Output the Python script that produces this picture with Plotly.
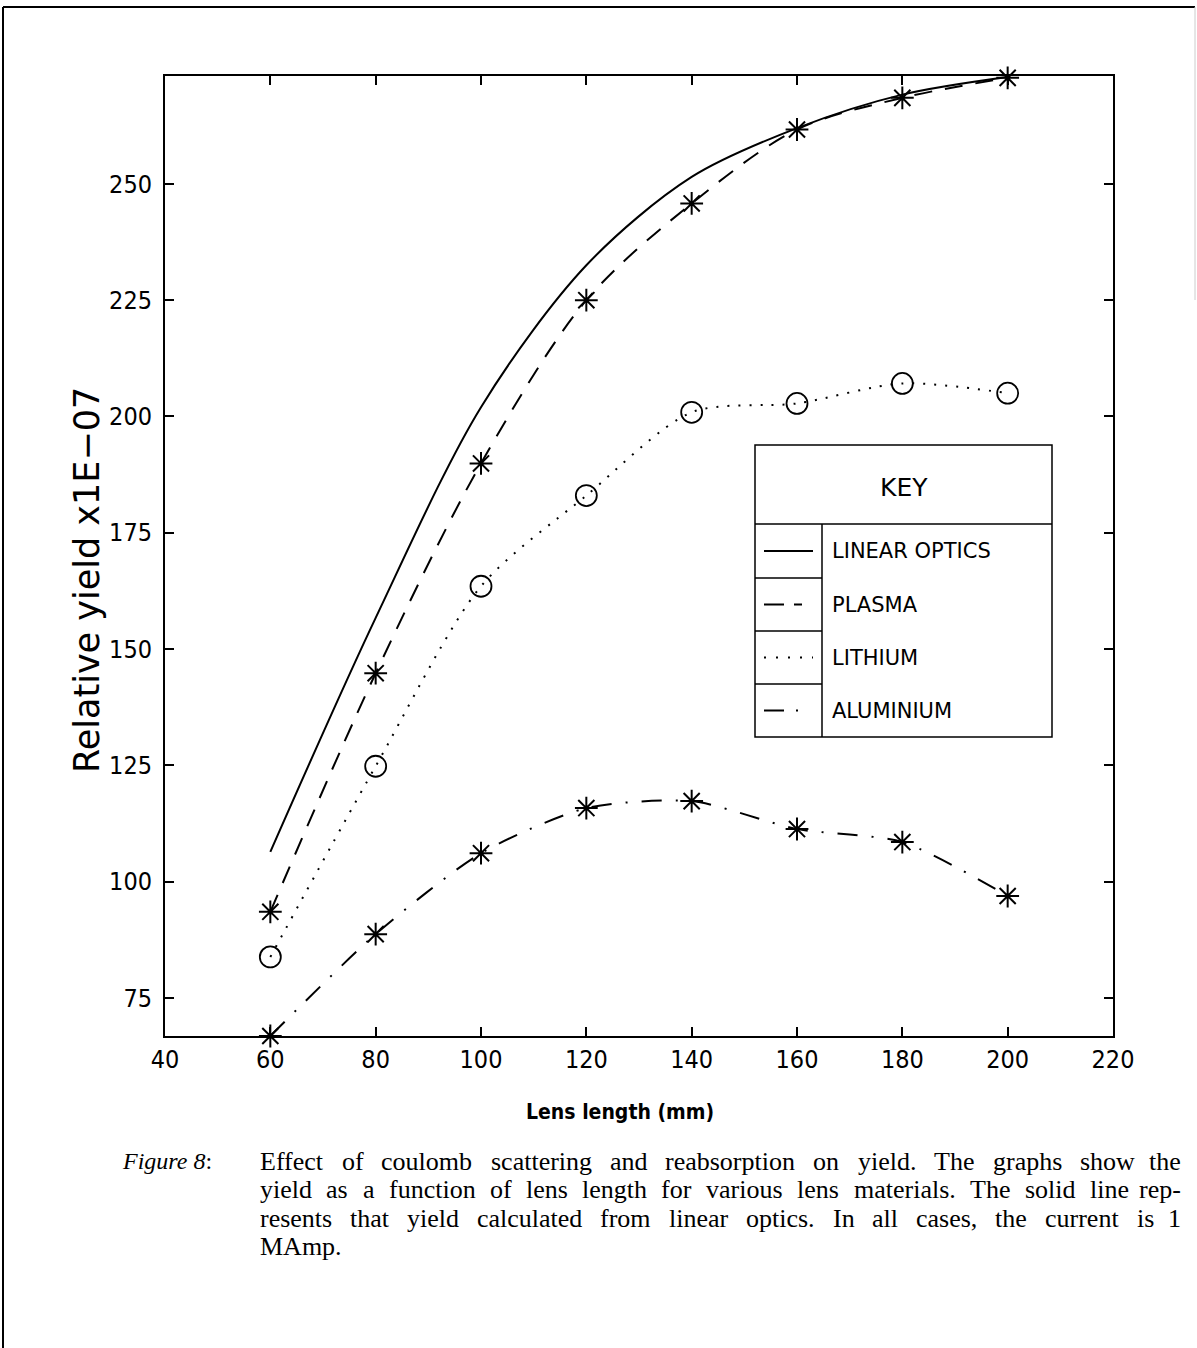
import plotly.graph_objects as go

# ---------------- data ----------------
lens_length = [60, 80, 100, 120, 140, 160, 180, 200]
linear_optics = [106.4, 156.7, 202.0, 232.5, 251.5, 262.0, 269.2, 273.0]
plasma = [93.5, 144.8, 189.9, 225.0, 245.8, 261.7, 268.5, 272.8]
lithium = [83.8, 124.8, 163.5, 183.0, 200.9, 202.8, 207.1, 205.0]
aluminium = [66.8, 88.7, 106.1, 115.8, 117.3, 111.3, 108.5, 96.9]

x_ticks = [40, 60, 80, 100, 120, 140, 160, 180, 200, 220]
y_ticks = [75, 100, 125, 150, 175, 200, 225, 250]

key_labels = ["LINEAR OPTICS", "PLASMA", "LITHIUM", "ALUMINIUM"]
key_dashes = ["solid", "20px,10px,8px,200px", "2px,10px", "20px,12px,2px,200px"]

caption_lines = [
    "Effect of coulomb scattering and reabsorption on yield.  The graphs show the",
    "yield as a function of lens length for various lens materials. The solid line rep-",
    "resents that yield calculated from linear optics. In all cases, the current is 1",
    "MAmp.",
]

# ---------------- layout geometry (pixels) ----------------
W, H = 1197, 1348
L, R, T, B = 165, 1113, 76, 1036
COND = "DejaVu Sans Condensed, Liberation Sans Narrow, Liberation Sans"


def px(x):
    return (x - L) / (R - L)


def py(y):
    return (B - y) / (B - T)


fig = go.Figure()

fig.add_trace(go.Scatter(x=lens_length, y=linear_optics, mode="lines",
                         line=dict(color="black", width=2, shape="spline", smoothing=0.9),
                         cliponaxis=False, showlegend=False))
fig.add_trace(go.Scatter(x=lens_length, y=plasma, mode="lines+markers",
                         line=dict(color="black", width=2, dash="18px,13px", shape="spline", smoothing=0.9),
                         marker=dict(symbol="asterisk-open", size=19,
                                     line=dict(color="black", width=2)),
                         cliponaxis=False, showlegend=False))
fig.add_trace(go.Scatter(x=lens_length, y=lithium, mode="lines+markers",
                         line=dict(color="black", width=2, dash="2px,9px", shape="spline", smoothing=0.8),
                         marker=dict(symbol="circle-open", size=21, color="black",
                                     line=dict(color="black", width=1.8)),
                         cliponaxis=False, showlegend=False))
fig.add_trace(go.Scatter(x=lens_length, y=aluminium, mode="lines+markers",
                         line=dict(color="black", width=2, dash="20px,14px,2px,14px", shape="spline", smoothing=0.7),
                         marker=dict(symbol="asterisk-open", size=19,
                                     line=dict(color="black", width=2)),
                         cliponaxis=False, showlegend=False))

shapes = []
# page border
shapes.append(dict(type="line", xref="paper", yref="paper", x0=px(3), x1=px(1195), y0=py(7), y1=py(7),
                   line=dict(color="black", width=2)))
shapes.append(dict(type="line", xref="paper", yref="paper", x0=px(3), x1=px(3), y0=py(7), y1=py(1348),
                   line=dict(color="black", width=2)))
shapes.append(dict(type="line", xref="paper", yref="paper", x0=px(1195), x1=px(1195), y0=py(7), y1=py(300),
                   line=dict(color="#cccccc", width=1)))

# key box
kx0, kx1, kdiv = 755, 1052, 822
ky = [445, 524, 578, 631, 684, 737]
shapes.append(dict(type="rect", xref="paper", yref="paper", x0=px(kx0), x1=px(kx1), y0=py(ky[0]), y1=py(ky[-1]),
                   line=dict(color="black", width=1.5), fillcolor="white", layer="above"))
shapes.append(dict(type="line", xref="paper", yref="paper", x0=px(kx0), x1=px(kx1), y0=py(ky[1]), y1=py(ky[1]),
                   line=dict(color="black", width=1.5)))
shapes.append(dict(type="line", xref="paper", yref="paper", x0=px(kdiv), x1=px(kdiv), y0=py(ky[1]), y1=py(ky[-1]),
                   line=dict(color="black", width=1.5)))
for i in range(2, 5):
    shapes.append(dict(type="line", xref="paper", yref="paper", x0=px(kx0), x1=px(kdiv), y0=py(ky[i]), y1=py(ky[i]),
                       line=dict(color="black", width=1.5)))

annotations = []
annotations.append(dict(text="KEY", xref="paper", yref="paper", x=px((kx0 + kx1) / 2), y=py(487),
                        xanchor="center", yanchor="middle",
                        showarrow=False, font=dict(family="DejaVu Sans", size=25, color="black")))
for i, (lab, dsh) in enumerate(zip(key_labels, key_dashes)):
    yc = (ky[i + 1] + ky[i + 2]) / 2
    shapes.append(dict(type="line", xref="paper", yref="paper", x0=px(764), x1=px(813), y0=py(yc), y1=py(yc),
                       line=dict(color="black", width=2, dash=dsh)))
    annotations.append(dict(text=lab, xref="paper", yref="paper", x=px(830), y=py(yc),
                            xanchor="left", yanchor="middle",
                            showarrow=False, font=dict(family="DejaVu Sans", size=21, color="black")))

# axis titles
annotations.append(dict(text="Relative yield x1E\u221207", xref="paper", yref="paper", x=px(87), y=py(580),
                        xanchor="center", yanchor="middle", textangle=-90, showarrow=False,
                        font=dict(family="DejaVu Sans", size=35, color="black")))
annotations.append(dict(text="<b>Lens length (mm)</b>", xref="paper", yref="paper", x=px(620), y=py(1112),
                        xanchor="center", yanchor="middle", showarrow=False,
                        font=dict(family=COND, size=21, color="black")))

# ---------------- caption (justified, Times metrics) ----------------
TIMES = {" ": 250, ".": 250, ",": 250, "-": 333, ":": 278, "1": 500, "8": 500,
         "a": 444, "b": 500, "c": 444, "d": 500, "e": 444, "f": 333, "g": 500, "h": 500,
         "i": 278, "j": 278, "k": 500, "l": 278, "m": 778, "n": 500, "o": 500, "p": 500,
         "q": 500, "r": 333, "s": 389, "t": 278, "u": 500, "v": 500, "w": 722, "x": 500,
         "y": 500, "z": 444, "A": 722, "E": 611, "F": 556, "I": 333, "M": 889, "T": 611}
CAP_SIZE = 26
CAP_X0, CAP_X1 = 258, 1183


def text_w(s):
    return sum(TIMES.get(c, 500) for c in s) * CAP_SIZE / 1000.0


annotations.append(dict(text="<i>Figure 8</i>:", xref="paper", yref="paper", x=px(120), y=py(1161),
                        xanchor="left", yanchor="middle", showarrow=False,
                        font=dict(family="Liberation Serif", size=24, color="black")))
for li, line in enumerate(caption_lines):
    yc = py(1161 + li * 28.5)
    words = line.split()
    if li < len(caption_lines) - 1 and len(words) > 1:
        widths = [text_w(w) for w in words]
        gap = (CAP_X1 - CAP_X0 - sum(widths)) / (len(words) - 1)
        xpos = CAP_X0
        for wi, w in enumerate(words):
            if wi == len(words) - 1:
                annotations.append(dict(text=w, xref="paper", yref="paper", x=px(CAP_X1), y=yc,
                                        xanchor="right", yanchor="middle", showarrow=False,
                                        font=dict(family="Liberation Serif", size=CAP_SIZE, color="black")))
            else:
                annotations.append(dict(text=w, xref="paper", yref="paper", x=px(xpos), y=yc,
                                        xanchor="left", yanchor="middle", showarrow=False,
                                        font=dict(family="Liberation Serif", size=CAP_SIZE, color="black")))
            xpos += widths[wi] + gap
    else:
        annotations.append(dict(text=line, xref="paper", yref="paper", x=px(CAP_X0), y=yc,
                                xanchor="left", yanchor="middle", showarrow=False,
                                font=dict(family="Liberation Serif", size=CAP_SIZE, color="black")))

axis_common = dict(showline=True, linecolor="black", linewidth=2, mirror="ticks",
                   ticks="inside", ticklen=9, tickwidth=2, tickcolor="black",
                   showgrid=False, zeroline=False)

fig.update_layout(
    width=W, height=H,
    margin=dict(l=L, r=W - R, t=T, b=H - B),
    paper_bgcolor="white", plot_bgcolor="white",
    xaxis=dict(range=[40, 220], tickvals=x_ticks, ticktext=[str(v) for v in x_ticks],
               tickfont=dict(family=COND, size=25, color="black"),
               ticklabelstandoff=0, **axis_common),
    yaxis=dict(range=[66.8, 273.2], tickvals=y_ticks, ticktext=[str(v) for v in y_ticks],
               tickfont=dict(family=COND, size=25, color="black"),
               ticklabelstandoff=6, **axis_common),
    shapes=shapes, annotations=annotations,
)

fig.write_html("out.html")
